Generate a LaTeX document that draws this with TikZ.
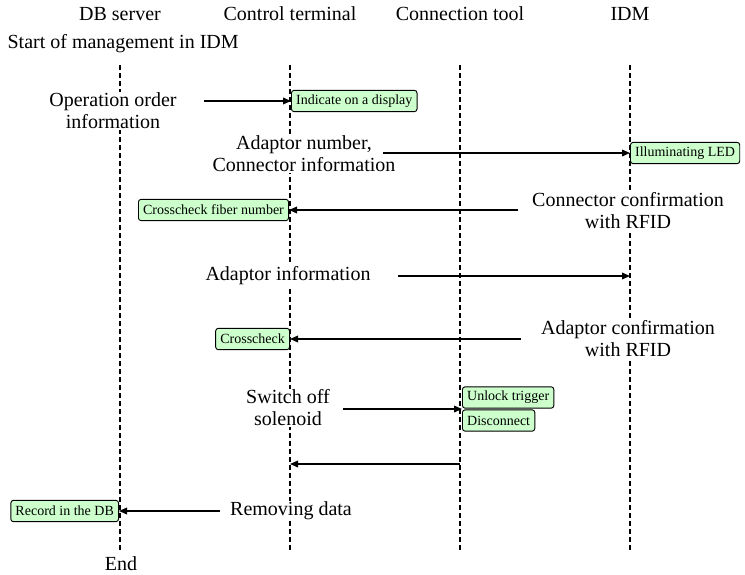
\documentclass[tikz,border=0pt]{standalone}
\usepackage{fontspec}
\setmainfont{Liberation Serif}
\usetikzlibrary{arrows.meta,positioning}
\definecolor{ActGreen}{RGB}{204,255,204}
\tikzset{
  head/.style={font=\fontsize{15}{16.5}\selectfont,inner sep=1pt},
  life/.style={line width=1pt,dash pattern=on 3.75pt off 2.25pt},
  lbl/.style={font=\fontsize{15}{16.5}\selectfont,align=center,fill=white,inner sep=1pt},
  act/.style={rounded corners=2pt,draw=black,line width=0.7pt,fill=ActGreen,
              font=\fontsize{10.5}{12}\selectfont,inner xsep=3.5pt,inner ysep=2.5pt,
              minimum height=16pt},
  msg/.style={-{Triangle[length=6pt,width=5pt]},line width=1pt},
}

\begin{document}
\begin{tikzpicture}[x=0.75pt,y=-0.75pt]
  \useasboundingbox (0,0) rectangle (745,574);
  % column heads
  \node[head] (hdb)  at (120,14) {DB server};
  \node[head] (hct)  at (290,14) {Control terminal};
  \node[head] (hcn)  at (460,14) {Connection tool};
  \node[head] (hidm) at (630,14) {IDM};
  \node[head,anchor=west] (start) at (6,44) {Start of management in IDM};
  % lifelines
  \draw[life] (120,65) -- (120,551);
  \draw[life] (290,65) -- (290,551);
  \draw[life] (460,65) -- (460,551);
  \draw[life] (630,65) -- (630,551);
  \node[head] (fin) at (121,564) {End};

  % messages
  \node[lbl] (m1) at (113,111) {Operation order\\information};
  \node[act,anchor=west] (disp) at (291,101) {Indicate on a display};
  \coordinate (s1) at (204,101);
  \draw[msg] (s1) -- (disp.west);

  \node[lbl] (m2) at (304,154) {Adaptor number,\\Connector information};
  \node[act,anchor=west] (led) at (630,153) {Illuminating LED};
  \coordinate (s2) at (383,153);
  \draw[msg] (s2) -- (led.west);

  \node[lbl] (m3) at (628,211) {Connector confirmation\\with RFID};
  \node[act,anchor=east] (fiber) at (289,210) {Crosscheck fiber number};
  \coordinate (s3) at (518,210);
  \draw[msg] (s3) -- (fiber.east);

  \node[lbl] (m4) at (288,276) {Adaptor information};
  \coordinate (s4) at (398,276);
  \coordinate (e4) at (630,276);
  \draw[msg] (s4) -- (e4);

  \node[lbl] (m5) at (628,339) {Adaptor confirmation\\with RFID};
  \node[act,anchor=east] (cross) at (290,339) {Crosscheck};
  \coordinate (s5) at (521,339);
  \draw[msg] (s5) -- (cross.east);

  \node[lbl] (m6) at (288,408) {Switch off\\solenoid};
  \node[act,anchor=west] (unlock) at (462,397.5) {Unlock trigger};
  \node[act,anchor=west] (disc) at (462,420.5) {Disconnect};
  \coordinate (s6) at (343,409);
  \coordinate (e6) at (462,409);
  \draw[msg] (s6) -- (e6);

  \coordinate (s7) at (460,464);
  \coordinate (e7) at (290,464);
  \draw[msg] (s7) -- (e7);

  \node[lbl] (m8) at (291,511) {Removing data};
  \node[act,anchor=east] (rec) at (119,511) {Record in the DB};
  \coordinate (s8) at (220,511);
  \draw[msg] (s8) -- (rec.east);
\end{tikzpicture}
\end{document}
